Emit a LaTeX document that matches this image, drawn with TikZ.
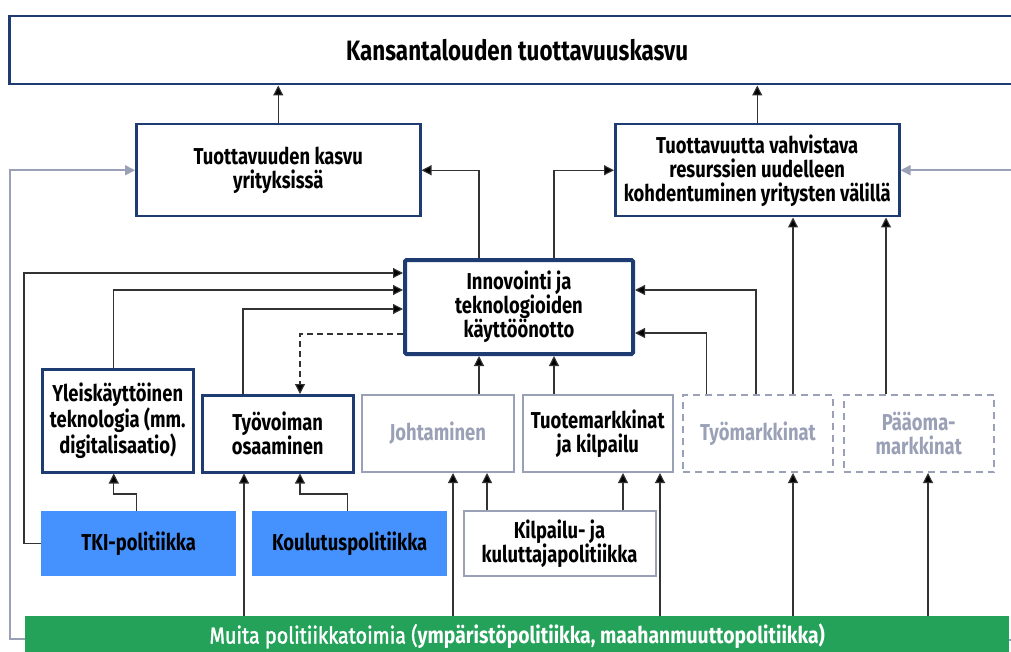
\documentclass[tikz,border=0pt]{standalone}
\usepackage{fontspec}
\setmainfont{Fira Sans}[FakeStretch=0.80]
\newfontfamily\titlefont{Fira Sans}[FakeStretch=0.80]
\newfontfamily\greenfont{Fira Sans}[FakeStretch=0.84]
\newfontfamily\greensemi{Fira Sans}[FakeStretch=0.86, FakeBold=1.6]
\usetikzlibrary{arrows.meta,calc}
\definecolor{navy}{HTML}{1E3C72}
\definecolor{slate}{HTML}{9AA0B6}
\definecolor{conn}{HTML}{333333}
\definecolor{tkiblue}{HTML}{4592FF}
\definecolor{grn}{HTML}{25A25A}
\tikzset{
  x=1pt, y=-1pt,
  boxtxt/.style={font=\fontsize{23}{24}\selectfont\bfseries, align=center, inner sep=0pt, anchor=north west},
  navybox/.style={boxtxt, draw=navy, line width=2.5pt, fill=white, text=black},
  innobox/.style={boxtxt, draw=navy, line width=4pt, rounded corners=1.5pt, fill=white, text=black},
  slatebox/.style={boxtxt, draw=slate, line width=2pt, fill=white, text=black},
  slatefaint/.style={boxtxt, draw=slate, line width=2pt, fill=white, text=slate},
  dashbox/.style={boxtxt, draw=slate, line width=2pt, dash pattern=on 7pt off 5pt, fill=white, text=slate},
  policy/.style={boxtxt, fill=tkiblue, text=black},
  arr/.style={draw=conn, line width=1.15pt, -{Triangle[length=10pt,width=10pt,fill=black]}},
  darr/.style={arr, dash pattern=on 6pt off 4pt},
  garr/.style={draw=slate, line width=1.6pt, -{Triangle[length=10pt,width=10pt]}},
}
\begin{document}
\begin{tikzpicture}
\useasboundingbox (0,0) rectangle (1011,652);
\clip (0,0) rectangle (1011,652);
\fill[white] (0,0) rectangle (1011,652);

% nodes
\node[navybox, minimum width=1016pt, minimum height=68pt, font=\titlefont\fontsize{28}{30}\selectfont\bfseries] (top) at (8,15) {Kansantalouden tuottavuuskasvu};
\node[navybox, minimum width=284pt, minimum height=92pt] (tk) at (135,123) {Tuottavuuden kasvu\\yrityksissä};
\node[navybox, minimum width=284pt, minimum height=92pt] (rb) at (614,123) {Tuottavuutta vahvistava\\resurssien uudelleen\\kohdentuminen yritysten välillä};
\node[innobox, minimum width=228pt, minimum height=94pt] (inno) at (403,258) {Innovointi ja\\teknologioiden\\käyttöönotto};
\node[navybox, minimum width=151pt, minimum height=103pt] (yl) at (41,368) {Yleiskäyttöinen\\teknologia (mm.\\digitalisaatio)};
\node[navybox, minimum width=151pt, minimum height=77pt] (ty) at (201,394) {Työvoiman\\osaaminen};
\node[slatefaint, minimum width=151.5pt, minimum height=77pt] (jo) at (361,394) {Johtaminen};
\node[slatebox, minimum width=150.5pt, minimum height=77pt] (tu) at (521.5,394) {Tuotemarkkinat\\ja kilpailu};
\node[dashbox, minimum width=150pt, minimum height=77pt] (tm) at (682,394) {Työmarkkinat};
\node[dashbox, minimum width=150.5pt, minimum height=77pt] (pm) at (842.5,394) {Pääoma-\\markkinat};
\node[policy, minimum width=195pt, minimum height=65pt] (tki) at (41,511) {TKI-politiikka};
\node[policy, minimum width=195pt, minimum height=65pt] (ko) at (252,511) {Koulutuspolitiikka};
\node[slatebox, minimum width=192pt, minimum height=65pt] (ki) at (462.5,510) {Kilpailu- ja\\kuluttajapolitiikka};
\node[boxtxt, fill=grn, text=white, minimum width=984pt, minimum height=40pt, font=\fontsize{23}{25}\selectfont] (gr) at (25,616) {{\greensemi\mdseries Muita politiikkatoimia (}{\greenfont\bfseries ympäristöpolitiikka, maahanmuuttopolitiikka)}};

% attachment coordinates
\coordinate (c479) at ($(inno.south west)+(76,0)$);
\coordinate (c554) at ($(inno.south west)+(151,0)$);
\coordinate (yla) at ($(yl.north)+(-4,0)$);
\coordinate (ylb) at ($(yl.south)+(-4,0)$);
\coordinate (tya) at ($(ty.north west)+(42,0)$);
\coordinate (tyb1) at ($(ty.south west)+(43,0)$);
\coordinate (tyb2) at ($(ty.south west)+(99,0)$);
\coordinate (tyt) at ($(ty.north west)+(99,0)$);
\coordinate (job1) at ($(jo.south west)+(92,0)$);
\coordinate (job2) at ($(jo.south west)+(126,0)$);
\coordinate (tub1) at ($(tu.south west)+(101.5,0)$);
\coordinate (tub2) at ($(tu.south west)+(138.5,0)$);
\coordinate (tmb) at ($(tm.south west)+(111,0)$);
\coordinate (pmb) at ($(pm.south west)+(85.5,0)$);
\coordinate (tmt1) at ($(tm.north west)+(24.5,0)$);
\coordinate (tmt2) at ($(tm.north west)+(74,0)$);
\coordinate (tmt3) at ($(tm.north west)+(111,0)$);
\coordinate (pmt) at ($(pm.north west)+(43.5,0)$);

% upper connectors
\draw[arr] (tk.north) -- (tk.north |- top.south);
\draw[arr] (rb.north) -- (rb.north |- top.south);
\draw[arr] (c479 |- inno.north) |- (tk.east);
\draw[arr] (c554 |- inno.north) |- (rb.west);
\draw[arr] (tmt3) -- (tmt3 |- rb.south);
\draw[arr] (pmt) -- (pmt |- rb.south);

% into innovation box
\draw[arr] (tki.west) -- ++(-17,0) |- ($(inno.north west)+(0,15)$);
\draw[arr] (yla) |- ($(inno.north west)+(0,32)$);
\draw[arr] (tya) |- ($(inno.north west)+(0,51)$);
\draw[darr] ($(inno.north west)+(0,76)$) -| (tyt);
\draw[arr] (tmt2) |- ($(inno.north east)+(0,32)$);
\draw[arr] (tmt1) |- ($(inno.north east)+(0,75)$);
\draw[arr] (c479 |- jo.north) -- (c479);
\draw[arr] (c554 |- tu.north) -- (c554);

% policies into middle row
\draw[arr] ($(tki.north)+(-2,0)$) -- ++(0,-17) -| (ylb);
\draw[arr] ($(ko.north)+(-2,0)$) -- ++(0,-17) -| (tyb2);
\draw[arr] (gr.north -| tyb1) -- (tyb1);
\draw[arr] (gr.north -| job1) -- (job1);
\draw[arr] (ki.north -| job2) -- (job2);
\draw[arr] (ki.north -| tub1) -- (tub1);
\draw[arr] (gr.north -| tub2) -- (tub2);
\draw[arr] (gr.north -| tmb) -- (tmb);
\draw[arr] (gr.north -| pmb) -- (pmb);

% outer grey loops
\draw[garr] ($(gr.north west)+(0,23)$) -- ++(-15,0) |- (tk.west);
\draw[garr] ($(gr.north east)+(0,24)$) -- ++(40,0) |- (rb.east);
\end{tikzpicture}
\end{document}
